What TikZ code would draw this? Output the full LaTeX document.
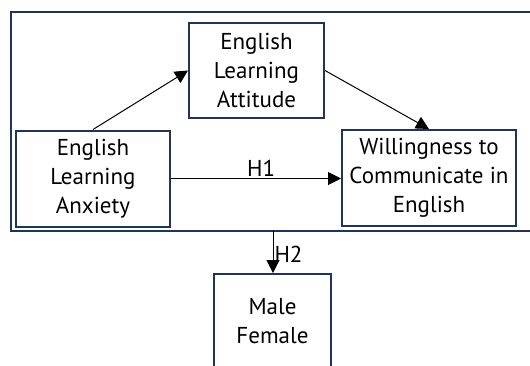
\documentclass[tikz,border=0pt]{standalone}
\usepackage{fontspec}
\setmainfont{PT Sans}
\usetikzlibrary{arrows.meta}
\definecolor{navy}{HTML}{1F3558}
\begin{document}
\begin{tikzpicture}[x=1pt,y=-1pt,
  box/.style={draw=navy,line width=2pt,align=center,inner sep=0pt,
    font=\fontsize{23}{29}\selectfont},
  arr/.style={-{Triangle[length=13pt,width=13pt]},line width=1pt,black},
  lbl/.style={font=\fontsize{23}{29}\selectfont,inner sep=1pt}]
\useasboundingbox (0,0) rectangle (530,365);
\clip (0,0) rectangle (530,365);
\draw[navy,line width=2.2pt] (11,12) rectangle (545,231);
\node[box,minimum width=135pt,minimum height=95pt] (att) at (256.5,70.5) {English\\Learning\\Attitude};
\node[box,minimum width=154pt,minimum height=96pt] (anx) at (93,178.5) {English\\Learning\\Anxiety};
\node[box,minimum width=174pt,minimum height=96pt] (wtc) at (429,178) {Willingness to\\Communicate in\\English};
\node[box,minimum width=117pt,minimum height=94pt] (gen) at (272.5,321) {Male\\Female};
\coordinate (top) at (273,231);
\draw[arr] (anx.north) -- (att.west);
\draw[arr] (att.east) -- (wtc.north);
\draw[arr] (anx.east) -- node[lbl,above,pos=0.53,yshift=1pt] {H1} (wtc.west |- anx.east);
\draw[arr] (top) -- node[lbl,right,yshift=-2pt] {H2} (top |- gen.north);
\end{tikzpicture}
\end{document}
